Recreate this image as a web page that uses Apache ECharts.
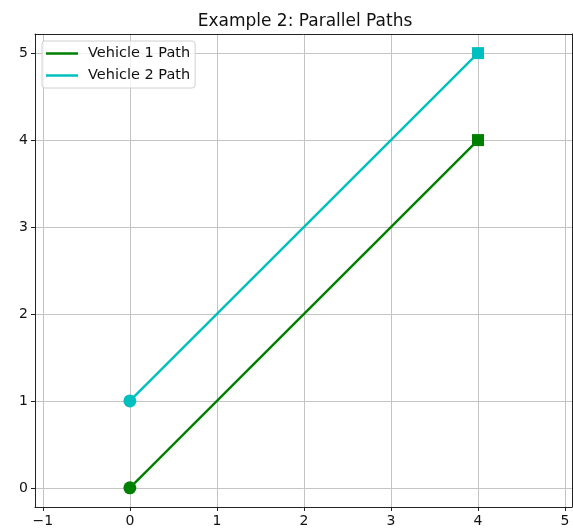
<!DOCTYPE html>
<html><head><meta charset="utf-8">
<script src="https://cdn.jsdelivr.net/npm/echarts@6/dist/echarts.min.js"></script>
<style>html,body{margin:0;padding:0;background:#fff}#c{width:573px;height:529px}</style>
</head><body><div id="c"></div>
<script>
const titleText = 'Example 2: Parallel Paths';
const seriesNames = ['Vehicle 1 Path', 'Vehicle 2 Path'];
const vehicle1X = [0, 4];
const vehicle1Y = [0, 4];
const vehicle2X = [0, 4];
const vehicle2Y = [1, 5];
const colors = ['#008000', '#00bfbf'];

function pts(xs, ys) {
  return xs.map((x, i) => ({
    value: [x, ys[i]],
    symbol: i === 0 ? 'circle' : 'rect',
    symbolSize: i === 0 ? 13 : 12
  }));
}
const font = 'DejaVu Sans';
const chart = echarts.init(document.getElementById('c'));
const axisCommon = {
  axisLine: {show: true, onZero: false, lineStyle: {color: '#222', width: 1}},
  axisTick: {show: true, inside: false, length: 4, lineStyle: {color: '#222'}},
  axisLabel: {color: '#111', fontSize: 14, fontFamily: font, showMinLabel: false, showMaxLabel: false, margin: 7,
    formatter: v => (v < 0 ? '\u2212' + Math.abs(v) : String(v))},
  splitLine: {show: true, lineStyle: {color: '#c4c4c4', width: 1}}
};
const spine = {axisLine: {show: true, onZero: false, lineStyle: {color: '#222'}},
  axisTick: {show: false}, axisLabel: {show: false}, splitLine: {show: false}};
chart.setOption({
  animation: false,
  title: {text: titleText, left: 300, top: 8, textAlign: 'center',
    textStyle: {fontFamily: font, fontSize: 17, fontWeight: 'normal', color: '#111'}},
  grid: {left: 35, top: 34, width: 537, height: 473, containLabel: false},
  legend: {
    left: 42, top: 41, orient: 'vertical', itemGap: 7,
    data: seriesNames, icon: 'rect', itemWidth: 32, itemHeight: 2.5,
    textStyle: {fontFamily: font, fontSize: 14.5, color: '#111', padding: [2, 0, 2, 5]},
    backgroundColor: 'rgba(255,255,255,0.8)', borderColor: '#d0d0d0', borderWidth: 1, borderRadius: 3,
    padding: [5, 5, 5, 4]
  },
  xAxis: [
    Object.assign({type: 'value', min: -1.09, max: 5.08, splitNumber: 6, position: 'bottom'}, axisCommon),
    Object.assign({type: 'value', min: -1.09, max: 5.08, position: 'top'}, spine)
  ],
  yAxis: [
    Object.assign({type: 'value', min: -0.22, max: 5.22, splitNumber: 5, position: 'left'}, axisCommon),
    Object.assign({type: 'value', min: -0.22, max: 5.22, position: 'right'}, spine)
  ],
  series: [
    {name: seriesNames[0], type: 'line', data: pts(vehicle1X, vehicle1Y), color: colors[0],
      lineStyle: {width: 2.4}, itemStyle: {color: colors[0]}},
    {name: seriesNames[1], type: 'line', data: pts(vehicle2X, vehicle2Y), color: colors[1],
      lineStyle: {width: 2.4}, itemStyle: {color: colors[1]}}
  ]
});
</script></body></html>
